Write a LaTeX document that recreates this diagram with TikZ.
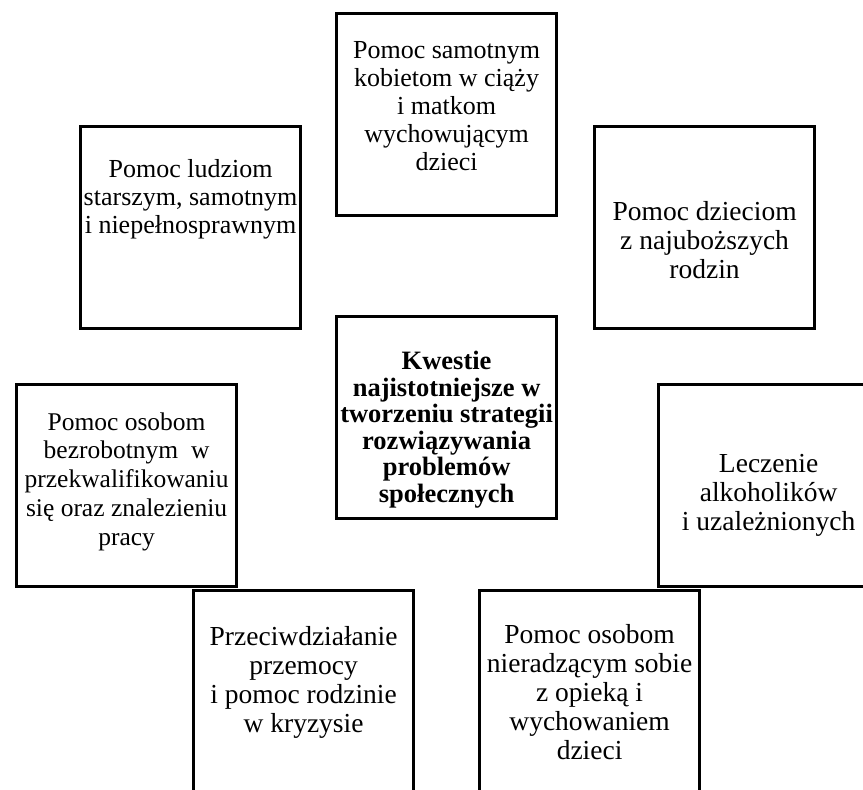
\documentclass[tikz,border=0pt]{standalone}
\usepackage{fontspec}
\setmainfont{Liberation Serif}
\usetikzlibrary{positioning}
\tikzset{
  box/.style={draw=black, line width=3.2pt, minimum width=220pt, minimum height=202pt,
    inner sep=0pt, anchor=north west},
  txt/.style={align=center, inner sep=0pt, font=\fontsize{26}{28}\selectfont},
  bigtxt/.style={align=center, inner sep=0pt, font=\fontsize{27.5}{29}\selectfont},
  boldtxt/.style={align=center, inner sep=0pt, font=\fontsize{26.5}{26.6}\selectfont\bfseries},
}
\begin{document}
\begin{tikzpicture}[x=1pt,y=-1pt]
  \useasboundingbox (0,0) rectangle (863,790);

  % boxes
  \node[box] (kobiety) at (335,12) {};
  \node[box] (starsi) at (79,125) {};
  \node[box] (dzieci) at (593,125) {};
  \node[box] (kwestie) at (335,315) {};
  \node[box] (bezrobotni) at (15,383) {};
  \node[box] (alkohol) at (657,383) {};
  \node[box] (przemoc) at (192,589) {};
  \node[box] (opieka) at (478,589) {};

  % texts
  \node[txt,yshift=8pt] (kobietyt) at (kobiety.center)
    {Pomoc samotnym\\kobietom w ciąży\\i matkom\\wychowującym\\dzieci};
  \node[txt,yshift=28pt] (starsit) at (starsi.center)
    {Pomoc ludziom\\starszym, samotnym\\i niepełnosprawnym};
  \node[bigtxt,yshift=-12pt] (dziecit) at (dzieci.center)
    {Pomoc dzieciom\\z najuboższych\\rodzin};
  \node[boldtxt,yshift=-12pt] (kwestiet) at (kwestie.center)
    {Kwestie\\najistotniejsze w\\tworzeniu strategii\\rozwiązywania\\problemów\\społecznych};
  \node[txt,font=\fontsize{25.5}{28.8}\selectfont,yshift=4pt] (bezrobotnit) at (bezrobotni.center)
    {Pomoc osobom\\bezrobotnym\ \ w\\przekwalifikowaniu\\się oraz znalezieniu\\pracy};
  \node[bigtxt,yshift=-10pt] (alkoholt) at (alkohol.center)
    {Leczenie\\alkoholików\\i uzależnionych};
  \node[bigtxt,yshift=9pt] (przemoct) at (przemoc.center)
    {Przeciwdziałanie\\przemocy\\i pomoc rodzinie\\w kryzysie};
  \node[bigtxt] (opiekat) at (opieka.center)
    {Pomoc osobom\\nieradzącym sobie\\z opieką i\\wychowaniem\\dzieci};

\end{tikzpicture}
\end{document}
